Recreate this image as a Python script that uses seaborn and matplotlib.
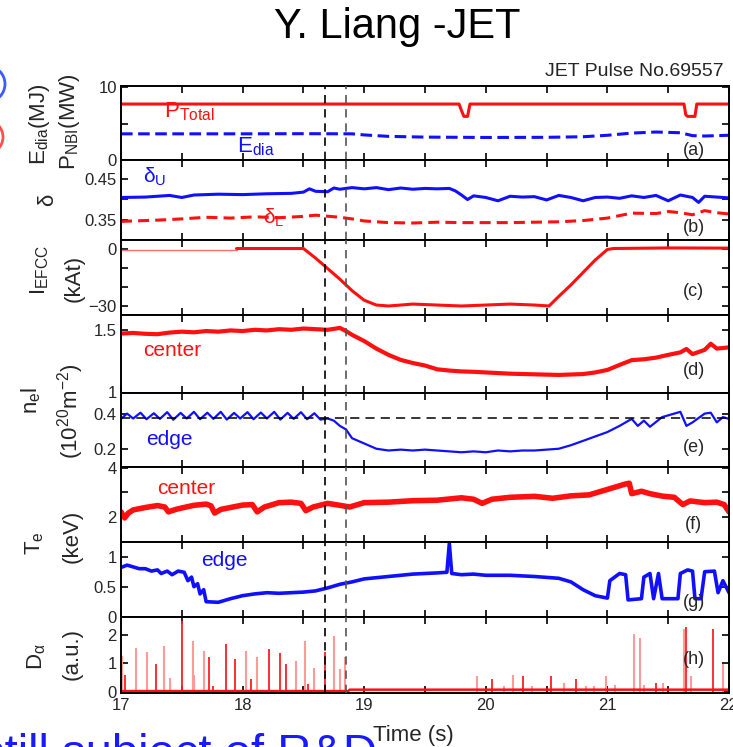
import matplotlib
matplotlib.use('Agg')
import matplotlib.pyplot as plt
import seaborn as sns
from matplotlib.patches import Ellipse

# ------------------------------------------------------------------ data
x_ticks = [17, 17.5, 18, 18.5, 19, 19.5, 20, 20.5, 21, 21.5, 22]
x_tick_labels = ['17', '', '18', '', '19', '', '20', '', '21', '', '22']
switch_times = [18.68, 18.85]
edge_ref_level = 0.375

# (a) P_NBI total and diamagnetic energy
ptotal_t = [17.0, 19.78, 19.80, 19.82, 19.85, 19.87, 21.63, 21.645, 21.66, 21.72, 21.735, 22.0]
ptotal_v = [7.7, 7.7, 6.8, 6.0, 6.0, 7.7, 7.7, 6.2, 6.0, 6.0, 7.7, 7.7]
edia_t = [17.0, 17.5, 18.0, 18.5, 18.9, 19.0, 19.2, 19.5, 20.0, 20.5, 20.8, 21.0, 21.2, 21.4, 21.6, 21.7, 21.8, 22.0]
edia_v = [3.6, 3.6, 3.6, 3.62, 3.6, 3.45, 3.25, 3.15, 3.1, 3.12, 3.2, 3.4, 3.7, 3.85, 3.75, 3.35, 3.3, 3.4]

# (b) triangularity
du_t = [17.0, 17.2, 17.4, 17.5, 17.6, 17.8, 18.0, 18.2, 18.4, 18.5, 18.55, 18.6, 18.7, 18.75, 18.8,
        18.9, 19.0, 19.1, 19.2, 19.3, 19.4, 19.5, 19.6, 19.7, 19.75, 19.8, 19.85, 19.9, 20.0, 20.1,
        20.2, 20.3, 20.4, 20.5, 20.6, 20.7, 20.8, 20.9, 21.0, 21.1, 21.2, 21.3, 21.4, 21.5, 21.6,
        21.7, 21.75, 21.8, 21.9, 22.0]
du_v = [0.404, 0.405, 0.409, 0.404, 0.41, 0.412, 0.411, 0.413, 0.414, 0.417, 0.425, 0.419, 0.418,
        0.427, 0.424, 0.428, 0.425, 0.428, 0.423, 0.427, 0.424, 0.426, 0.425, 0.426, 0.42, 0.41,
        0.399, 0.408, 0.404, 0.396, 0.407, 0.405, 0.406, 0.398, 0.409, 0.404, 0.396, 0.404, 0.405,
        0.402, 0.408, 0.404, 0.409, 0.396, 0.41, 0.404, 0.392, 0.407, 0.405, 0.403]
dl_t = [17.0, 17.3, 17.5, 17.7, 17.9, 18.1, 18.3, 18.5, 18.6, 18.8, 18.9, 19.0, 19.2, 19.4, 19.6,
        19.8, 20.0, 20.2, 20.4, 20.6, 20.8, 21.0, 21.1, 21.2, 21.4, 21.5, 21.6, 21.7, 21.8, 21.9, 22.0]
dl_v = [0.346, 0.349, 0.352, 0.356, 0.354, 0.357, 0.355, 0.358, 0.361, 0.356, 0.352, 0.347, 0.343,
        0.342, 0.344, 0.343, 0.343, 0.343, 0.344, 0.345, 0.348, 0.354, 0.36, 0.366, 0.365, 0.37,
        0.367, 0.362, 0.372, 0.367, 0.364]

# (c) EFCC coil current
iefcc_early_t = [17.0, 17.95]
iefcc_early_v = [-0.6, -0.6]
iefcc_t = [17.95, 18.2, 18.5, 18.6, 18.7, 18.8, 18.9, 19.0, 19.1, 19.2, 19.4, 19.6, 19.8, 20.0,
           20.2, 20.4, 20.52, 20.6, 20.7, 20.8, 20.9, 21.0, 21.05, 21.5, 22.0]
iefcc_v = [0.0, 0.0, 0.0, -5.0, -10.5, -16.0, -22.0, -27.0, -29.5, -30.0, -29.0, -29.5, -30.0,
           -29.5, -29.0, -29.5, -30.0, -25.0, -19.0, -12.5, -6.0, -0.5, 0.0, 0.3, 0.2]

# (d) line density, centre chord
nc_t = [17.0, 17.1, 17.2, 17.3, 17.4, 17.5, 17.6, 17.7, 17.8, 17.9, 18.0, 18.1, 18.2, 18.3, 18.4,
        18.5, 18.6, 18.7, 18.8, 18.85, 18.9, 19.0, 19.1, 19.2, 19.3, 19.4, 19.5, 19.6, 19.7, 19.8,
        19.9, 20.0, 20.2, 20.4, 20.6, 20.8, 20.9, 21.0, 21.1, 21.2, 21.3, 21.4, 21.5, 21.6, 21.65,
        21.7, 21.8, 21.85, 21.9, 22.0]
nc_v = [1.47, 1.475, 1.468, 1.465, 1.478, 1.485, 1.48, 1.49, 1.485, 1.495, 1.49, 1.5, 1.495, 1.505,
        1.5, 1.51, 1.505, 1.5, 1.515, 1.49, 1.46, 1.41, 1.35, 1.3, 1.26, 1.235, 1.215, 1.185, 1.175,
        1.168, 1.165, 1.16, 1.15, 1.145, 1.14, 1.147, 1.16, 1.18, 1.22, 1.258, 1.265, 1.278, 1.3,
        1.32, 1.347, 1.306, 1.34, 1.389, 1.35, 1.36]

# (e) line density, edge chord
ne_t = [17.0, 17.05, 17.1, 17.16, 17.21, 17.27, 17.32, 17.38, 17.43, 17.49, 17.54, 17.6, 17.65,
        17.71, 17.76, 17.82, 17.87, 17.93, 17.98, 18.04, 18.09, 18.15, 18.2, 18.26, 18.31, 18.37,
        18.42, 18.48, 18.53, 18.59, 18.64, 18.7, 18.75, 18.8, 18.85, 18.9, 19.0, 19.1, 19.2, 19.3,
        19.4, 19.5, 19.6, 19.7, 19.8, 19.9, 20.0, 20.1, 20.2, 20.3, 20.4, 20.5, 20.6, 20.7, 20.8,
        20.9, 21.0, 21.1, 21.2, 21.25, 21.3, 21.35, 21.45, 21.55, 21.6, 21.65, 21.7, 21.8, 21.85,
        21.9, 21.95, 22.0]
ne_v = [0.37, 0.4, 0.372, 0.405, 0.368, 0.402, 0.37, 0.408, 0.365, 0.404, 0.372, 0.41, 0.368,
        0.405, 0.37, 0.41, 0.366, 0.404, 0.372, 0.408, 0.368, 0.406, 0.372, 0.41, 0.366, 0.404,
        0.37, 0.408, 0.368, 0.402, 0.366, 0.372, 0.36, 0.33, 0.31, 0.26, 0.23, 0.2, 0.19, 0.195,
        0.19, 0.195, 0.19, 0.185, 0.18, 0.185, 0.18, 0.19, 0.185, 0.19, 0.19, 0.195, 0.2, 0.22,
        0.245, 0.27, 0.295, 0.33, 0.37, 0.33, 0.36, 0.325, 0.38, 0.4, 0.41, 0.33, 0.35, 0.4,
        0.405, 0.35, 0.38, 0.37]

# (f) electron temperature, centre
tc_t = [17.0, 17.03, 17.06, 17.1, 17.2, 17.3, 17.36, 17.39, 17.45, 17.5, 17.6, 17.7, 17.74, 17.77,
        17.82, 17.9, 18.0, 18.08, 18.12, 18.18, 18.3, 18.4, 18.48, 18.52, 18.58, 18.7, 18.8, 18.88,
        19.0, 19.2, 19.4, 19.6, 19.8, 19.9, 19.97, 20.05, 20.2, 20.4, 20.55, 20.7, 20.85, 20.95,
        21.05, 21.15, 21.18, 21.2, 21.28, 21.35, 21.45, 21.55, 21.62, 21.68, 21.8, 21.9, 21.96, 22.0]
tc_v = [2.2, 1.95, 2.15, 2.28, 2.38, 2.46, 2.4, 2.2, 2.3, 2.36, 2.47, 2.52, 2.45, 2.15, 2.3, 2.38,
        2.48, 2.5, 2.2, 2.4, 2.58, 2.6, 2.55, 2.25, 2.4, 2.55, 2.47, 2.4, 2.58, 2.6, 2.66, 2.68,
        2.78, 2.72, 2.55, 2.72, 2.8, 2.84, 2.76, 2.86, 2.9, 3.05, 3.2, 3.35, 3.38, 2.95, 3.05, 2.95,
        2.85, 2.8, 2.5, 2.65, 2.58, 2.6, 2.5, 2.2]

# (g) electron temperature, edge
te_t = [17.0, 17.05, 17.1, 17.15, 17.2, 17.25, 17.3, 17.33, 17.38, 17.42, 17.47, 17.52, 17.55,
        17.58, 17.6, 17.63, 17.65, 17.68, 17.7, 17.8, 17.9, 18.0, 18.1, 18.2, 18.3, 18.4, 18.5,
        18.6, 18.7, 18.8, 18.9, 19.0, 19.1, 19.2, 19.3, 19.4, 19.5, 19.6, 19.68, 19.7, 19.72, 19.8,
        19.9, 20.0, 20.2, 20.4, 20.6, 20.7, 20.8, 20.9, 21.0, 21.02, 21.1, 21.15, 21.17, 21.28,
        21.3, 21.35, 21.38, 21.42, 21.45, 21.58, 21.6, 21.66, 21.7, 21.72, 21.77, 21.8, 21.88,
        21.91, 21.95, 22.0]
te_v = [0.82, 0.86, 0.83, 0.8, 0.8, 0.76, 0.78, 0.72, 0.76, 0.7, 0.76, 0.74, 0.6, 0.66, 0.5, 0.55,
        0.38, 0.45, 0.25, 0.24, 0.3, 0.35, 0.38, 0.4, 0.39, 0.4, 0.41, 0.43, 0.48, 0.54, 0.58, 0.63,
        0.65, 0.67, 0.69, 0.71, 0.72, 0.73, 0.74, 1.22, 0.72, 0.7, 0.71, 0.69, 0.69, 0.67, 0.64,
        0.58, 0.45, 0.35, 0.31, 0.6, 0.72, 0.7, 0.28, 0.3, 0.66, 0.72, 0.3, 0.72, 0.3, 0.3, 0.72,
        0.78, 0.76, 0.3, 0.3, 0.75, 0.76, 0.4, 0.6, 0.4]

# (h) D-alpha emission (ELM spikes)
dalpha_strong_t = [17.03, 17.29, 17.50, 17.725, 17.76, 17.865, 17.94, 18.07, 18.22, 18.31, 18.36,
                   18.54, 18.675, 20.05, 20.31, 20.54, 20.74, 21.40, 21.65, 21.87]
dalpha_strong_h = [0.59, 0.96, 2.50, 1.22, 0.20, 1.70, 1.16, 0.46, 1.50, 1.38, 0.96,
                   0.28, 1.40, 0.46, 0.55, 0.55, 0.46, 0.30, 2.30, 2.20]
dalpha_faint_t = [17.005, 17.126, 17.21, 17.35, 17.40, 17.59, 17.60, 17.68, 18.03, 18.12, 18.44,
                  18.51, 18.59, 18.755, 18.80, 18.84, 19.93, 20.15, 20.22, 20.38, 20.64, 20.82,
                  20.89, 20.99, 21.06, 21.22, 21.27, 21.30, 21.46, 21.63, 21.69, 21.95]
dalpha_faint_h = [1.26, 1.55, 1.40, 1.63, 0.50, 1.80, 0.60, 1.43, 1.43, 1.23, 1.08,
                  1.80, 0.85, 1.96, 0.79, 1.22, 0.55, 0.20, 0.60, 0.20, 0.30, 0.20,
                  0.20, 0.55, 0.25, 2.05, 1.88, 0.25, 0.30, 2.20, 0.55, 0.96]
dalpha_base_t = [17.0, 18.87, 18.88, 22.0]
dalpha_base_v = [0.02, 0.02, 0.07, 0.07]

# ------------------------------------------------------------------ style
sns.set_theme(style='ticks')
plt.rcParams['font.family'] = ['Liberation Sans', 'DejaVu Sans']
plt.rcParams['mathtext.fontset'] = 'custom'
plt.rcParams['mathtext.rm'] = 'Liberation Sans'
plt.rcParams['mathtext.it'] = 'Liberation Sans'
plt.rcParams['mathtext.default'] = 'regular'

RED = '#ff1010'
BLUE = '#1010ff'
TXT = '#262626'

W, H = 733, 747
fig = plt.figure(figsize=(W / 100, H / 100), dpi=100)

def fx(x):
    return x / W

def fy(y):
    return 1 - y / H

panels_px = [(86, 160), (160, 239.5), (239.5, 315), (315, 392.5), (392.5, 466.5),
             (466.5, 541.7), (541.7, 616.7), (616.7, 692.5)]
axes = []
for top, bot in panels_px:
    ax = fig.add_axes([fx(121), fy(bot), 608 / W, (bot - top) / H])
    axes.append(ax)

def line(ax, t, v, color, lw, ls='-'):
    sns.lineplot(x=t, y=v, ax=ax, color=color, lw=lw, linestyle=ls,
                 estimator=None, sort=False, legend=False)

a, b, c, d, e, f, g, h = axes

line(a, ptotal_t, ptotal_v, RED, 2.2)
line(a, edia_t, edia_v, BLUE, 2.2, (0, (3.8, 1.8)))
line(b, du_t, du_v, BLUE, 2.2)
line(b, dl_t, dl_v, RED, 2.2, (0, (3.6, 2.0)))
line(c, iefcc_early_t, iefcc_early_v, '#ff7070', 1.0)
line(c, iefcc_t, iefcc_v, RED, 2.2)
line(d, nc_t, nc_v, RED, 3.0)
line(e, ne_t, ne_v, BLUE, 1.6)
line(f, tc_t, tc_v, RED, 4.0)
line(g, te_t, te_v, BLUE, 2.6)
h.vlines(dalpha_faint_t, 0, dalpha_faint_h, color='#ff9a9a', lw=1.5)
h.vlines(dalpha_strong_t, 0, dalpha_strong_h, color='#ff2020', lw=1.3)
line(h, dalpha_base_t, dalpha_base_v, RED, 1.8)

e.axhline(edge_ref_level, color='black', lw=1.1, ls=(0, (6, 4)))

ylims = [(0, 10.18), (0.302, 0.495), (-34.7, 4.7), (1.0, 1.618), (0.099, 0.52),
         (0.97, 4.07), (0, 1.25), (-0.03, 2.65)]
yticks = [[0, 5, 10], [0.35, 0.4, 0.45], [-30, -20, -10, 0], [1, 1.5], [0.2, 0.4],
          [2, 3, 4], [0, 0.5, 1], [0, 1, 2]]
ylabels = [['0', '', '10'], ['0.35', '', '0.45'], ['\u221230', '', '', '0'], ['1', '1.5'],
           ['0.2', '0.4'], ['2', '', '4'], ['0', '0.5', '1'], ['0', '1', '2']]

for i, ax in enumerate(axes):
    for sx in switch_times:
        ax.axvline(sx, color='black' if sx == switch_times[0] else '#555555', lw=1.2,
                   ls=(0, (5, 3.5)), zorder=5)
    ax.set_xlim(17, 22)
    ax.set_ylim(*ylims[i])
    ax.set_yticks(yticks[i])
    ax.set_yticklabels(ylabels[i])
    ax.set_xticks(x_ticks)
    if i == len(axes) - 1:
        ax.set_xticklabels(x_tick_labels)
    else:
        ax.set_xticklabels([])
    ax.set_xlabel('')
    ax.set_ylabel('')
    ax.tick_params(direction='in', length=5, width=1.2, top=True, right=True,
                   labelsize=12, colors='black', labelcolor=TXT, pad=3)
    ax.tick_params(axis='x', pad=4)
    for s in ax.spines.values():
        s.set_linewidth(1.4)
        s.set_color('black')
        s.set_visible(True)
    ax.set_facecolor('white')

# panel annotations
tag_y = [1.25, 0.331, -22.4, 1.172, 0.205, 1.69, 0.23, 1.13]
for ax, tag, yv in zip(axes, 'abcdefgh', tag_y):
    ax.text(21.71, yv, f'({tag})', ha='center', va='center', fontsize=13, color=TXT)

a.text(17.35, 5.8, r'P$_{Total}$', color=RED, fontsize=16, ha='left', va='baseline')
a.text(17.95, 1.1, r'E$_{dia}$', color=BLUE, fontsize=16, ha='left', va='baseline')
b.text(17.18, 0.44, '\u03b4$_{U}$', color=BLUE, fontsize=15, ha='left', va='baseline')
b.text(18.17, 0.341, '\u03b4$_{L}$', color=RED, fontsize=15, ha='left', va='baseline')
d.text(17.18, 1.334, 'center', color=RED, fontsize=15, ha='left', va='center')
e.text(17.21, 0.25, 'edge', color=BLUE, fontsize=15, ha='left', va='center')
f.text(17.30, 3.17, 'center', color=RED, fontsize=15, ha='left', va='center')
g.text(17.66, 0.945, 'edge', color=BLUE, fontsize=15, ha='left', va='center')

# y axis labels (rotated columns)
ylab = [
    (r'E$_{dia}$(MJ)', 40, 124), (r'P$_{NBI}$(MW)', 69, 122),
    ('\u03b4', 48, 200),
    (r'I$_{EFCC}$', 40, 270), ('(kAt)', 74, 278),
    (r'n$_{e}$l', 31, 400), (r'(10$^{20}$m$^{-2}$)', 71, 411),
    (r'T$_{e}$', 35, 543), ('(keV)', 72, 536),
    ('D$_{\u03b1}$', 37, 657), ('(a.u.)', 72, 654),
]
for txt, x, y in ylab:
    fig.text(fx(x), fy(y), txt, rotation=90, ha='center', va='center', fontsize=16, color=TXT)

fig.text(fx(413), fy(736), 'Time (s)', ha='center', va='center', fontsize=16, color=TXT)

# slide-level texts
fig.text(fx(397), fy(27), 'Y. Liang -JET', ha='center', va='center', fontsize=30, color='black')
fig.text(fx(724), fy(72), 'JET Pulse No.69557', ha='right', va='center', fontsize=14, color=TXT)
fig.text(fx(-19), fy(767), 'still subject of R&D', ha='left', va='baseline', fontsize=34,
         color='#1a1aff')

# partially visible slide bullets on the left edge
fig.add_artist(Ellipse((fx(-13), fy(84)), 36 / W, 36 / H, transform=fig.transFigure,
                       fill=False, ec='#3a5cff', lw=2))
fig.add_artist(Ellipse((fx(-14), fy(137)), 34 / W, 34 / H, transform=fig.transFigure,
                       fill=False, ec='#ff5050', lw=2))

fig.savefig('out.png', dpi=100, facecolor='white')
